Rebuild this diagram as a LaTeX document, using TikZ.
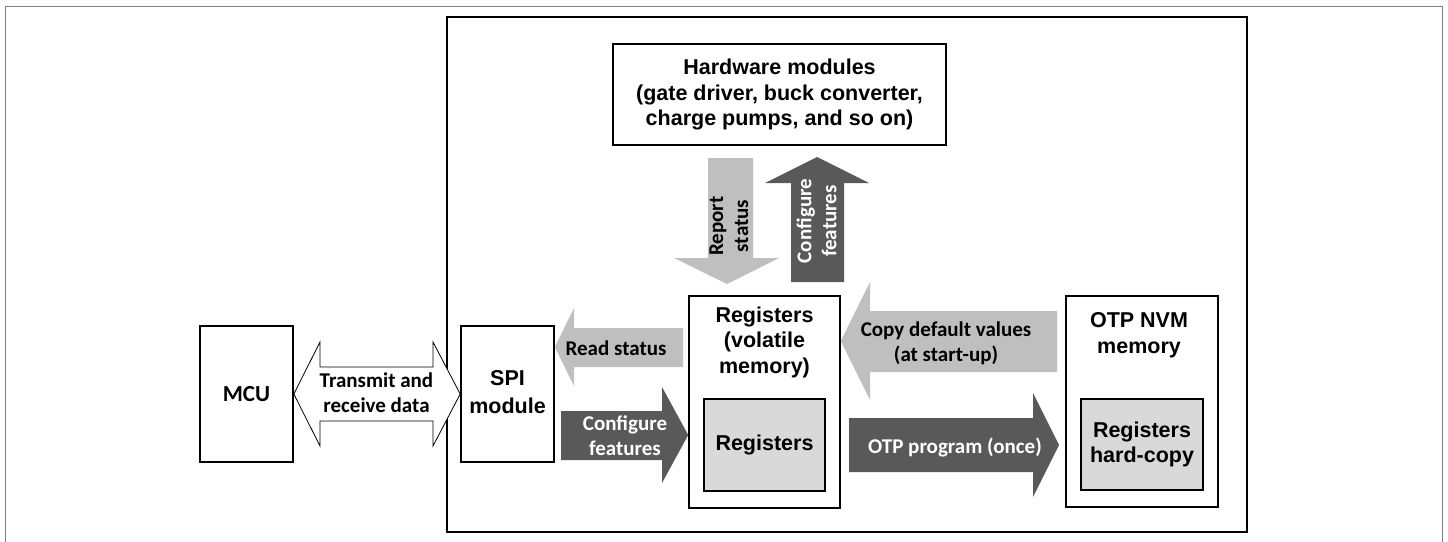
\documentclass[tikz,border=0pt]{standalone}
\usepackage{fontspec}
\setmainfont{Liberation Sans}
\newfontfamily\calib{Carlito}
\definecolor{lightarr}{HTML}{BFBFBF}
\definecolor{darkarr}{HTML}{595959}
\definecolor{regfill}{HTML}{D9D9D9}
\definecolor{framegray}{HTML}{7F7F7F}
\begin{document}
\begin{tikzpicture}[x=1pt,y=-1pt,
  box/.style={draw=black,line width=1.6pt,inner sep=0pt},
  afont/.style={font=\fontsize{21.5}{25.5}\selectfont\bfseries,align=center,inner sep=0pt},
  cfont/.style={font=\calib\fontsize{21}{25}\selectfont\bfseries,align=center,inner sep=0pt},
  lightarrow/.style={fill=lightarr},
  darkarrow/.style={fill=darkarr},
  wtext/.style={text=white}]
\useasboundingbox (0,0) rectangle (1448,541);
% outer frame
\draw[framegray,line width=1pt] (5,545) -- (5,6) -- (1442,6) -- (1442,545);
% inner device box
\node[draw=black,line width=2pt,minimum width=800pt,minimum height=515pt,inner sep=0pt] (dev) at (847,274.5) {};
% boxes
\node[box,minimum width=333pt,minimum height=101pt,afont] (hw) at (779.5,94.5)
  {Hardware modules\\(gate driver, buck converter,\\charge pumps, and so on)};
\node[box,minimum width=93pt,minimum height=136pt] (mcu) at (246.5,394) {};
\node[cfont,font=\calib\fontsize{23}{27}\selectfont\bfseries] (mcut) at (mcu.center) {MCU};
\node[box,minimum width=93pt,minimum height=136pt] (spi) at (507.5,394) {};
\node[afont,font=\fontsize{21.5}{28}\selectfont\bfseries] (spit) at (507.5,392) {SPI\\module};
\node[box,minimum width=151pt,minimum height=212pt] (reg) at (764.5,402) {};
\node[afont] (regt) at (764.5,342) {Registers\\(volatile\\memory)};
\node[box,fill=regfill,minimum width=121pt,minimum height=92pt,afont] (regin) at (764.5,445) {Registers};
\node[box,minimum width=152pt,minimum height=211pt] (otp) at (1142,401.5) {};
\node[afont] (otpt) at (1139,335) {OTP NVM\\memory};
\node[box,fill=regfill,minimum width=122pt,minimum height=91pt,afont] (otpin) at (1142,444.5) {Registers\\hard-copy};
% double arrow MCU <-> SPI
\draw[fill=white,line width=0.8pt] (mcu.east |- 0,394) -- (320,342) -- (320,367) -- (433,367) -- (433,342)
  -- (spi.west |- 0,394) -- (433,446) -- (433,421) -- (320,421) -- (320,446) -- cycle;
\node[cfont] (txrx) at (376.5,393) {Transmit and\\receive data};
% read status
\fill[lightarrow] (683,328) -- (574,328) -- (574,308) -- (spi.east |- 0,347) -- (574,386) -- (574,367) -- (683,367) -- cycle;
\node[cfont] (rst) at (616,348) {Read status};
% configure features (to registers)
\fill[darkarrow] (561,411) -- (662,411) -- (662,387) -- (reg.west |- 0,435) -- (662,483) -- (662,460) -- (561,460) -- cycle;
\node[cfont,wtext] (cfg1) at (625,436) {Configure\\features};
% report status (down)
\fill[lightarrow] (708,158) -- (753,158) -- (753,258) -- (779,258) -- (727,284) -- (674,258) -- (708,258) -- cycle;
\node[cfont,rotate=90] (rep) at (729,226) {Report\\status};
% configure features (up)
\fill[darkarrow] (791,282) -- (791,183) -- (765,183) -- (817,157) -- (869,183) -- (844,183) -- (844,282) -- cycle;
\node[cfont,wtext,rotate=90] (cfg2) at (816.5,221) {Configure\\features};
% copy default values
\fill[lightarrow] (1057,311) -- (870,311) -- (870,282) -- (reg.east |- 0,341) -- (870,400) -- (870,372) -- (1057,372) -- cycle;
\node[cfont] (copy) at (946,343) {Copy default values\\(at start-up)};
% OTP program
\fill[darkarrow] (849,418) -- (1033,418) -- (1033,393) -- (1059,445) -- (1033,497) -- (1033,472) -- (849,472) -- cycle;
\node[cfont,wtext] (otpp) at (955,447) {OTP program (once)};
\end{tikzpicture}
\end{document}
